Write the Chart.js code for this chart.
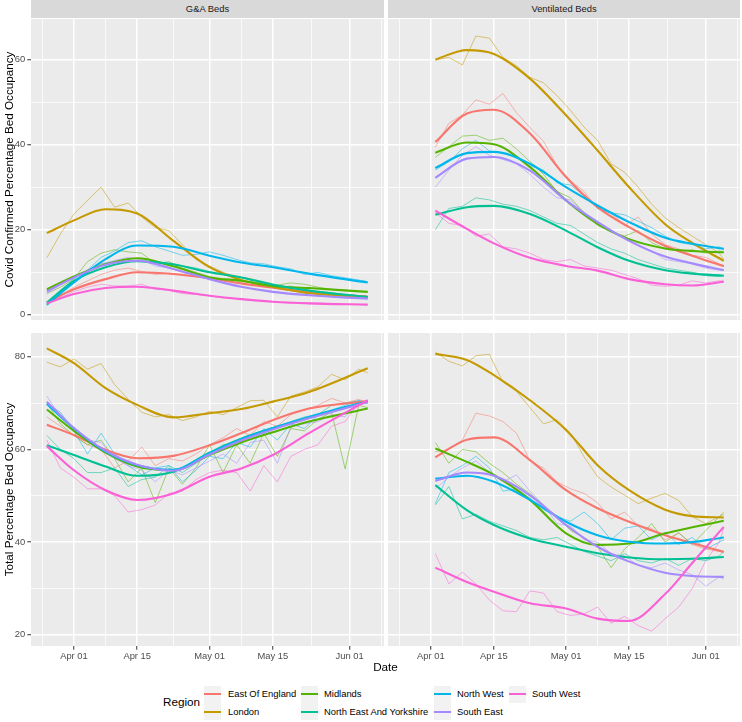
<!DOCTYPE html>
<html>
<head>
<meta charset="utf-8">
<script src="https://cdn.jsdelivr.net/npm/chart.js@4.4.0/dist/chart.umd.min.js"></script>
<style>
  body { margin: 0; background: #fff; font-family: "Liberation Sans", Arial, sans-serif; }
  #fig { position: relative; width: 742px; height: 722px; overflow: hidden; background: #fff; }
  canvas { position: absolute; }
  .strip { position: absolute; top: 0; height: 18px; background: #D9D9D9; color: #1A1A1A;
           font-size: 9.4px; font-weight: normal; line-height: 18px; text-align: center; }
  .txt { position: absolute; white-space: nowrap; color: #000; }
  .key { position: absolute; width: 17px; height: 17px; background: #F2F2F2; }
  .key div { position: absolute; left: 0; right: 0; top: 7.5px; height: 2px; }
</style>
</head>
<body>
<div id="fig">
  <div class="strip" style="left:31px;width:353px;">G&amp;A Beds</div>
  <div class="strip" style="left:388px;width:352px;">Ventilated Beds</div>
  <canvas id="tl" width="384" height="301" style="left:0;top:19px;"></canvas>
  <canvas id="tr" width="352" height="301" style="left:388px;top:19px;"></canvas>
  <canvas id="bl" width="384" height="335" style="left:0;top:333px;"></canvas>
  <canvas id="br" width="352" height="335" style="left:388px;top:333px;"></canvas>
  <div class="txt" style="left:0;width:771px;top:660px;text-align:center;font-size:11.7px;">Date</div>
  <div id="legend"></div>
</div>
<script>
// regions and ggplot hue colours
const regions = ['East Of England', 'London', 'Midlands', 'North East And Yorkshire', 'North West', 'South East', 'South West'];
const regionColours = ['#F8766D', '#C49A00', '#53B400', '#00C094', '#00B6EB', '#A58AFF', '#FB61D7'];

// x axis: days since Apr 01
const dateBreaks = [0, 14, 30, 44, 61];
const dateLabels = ['Apr 01', 'Apr 15', 'May 01', 'May 15', 'Jun 01'];
const dateMinor = [-7, 7, 22, 37, 52.5, 68];

const covidBreaks = [0, 20, 40, 60];
const covidMinor = [10, 30, 50];
const totalBreaks = [20, 40, 60, 80];
const totalMinor = [30, 50, 70];

// smoothed curves
const gaDays = [-6, 0, 7, 14, 22, 30, 37, 44, 52, 65];
const ventDays = [1, 8, 14, 22, 30, 37, 44, 52, 58, 65];

const gaCovidSmooth = [
  [2.9, 6.0, 8.4, 10.0, 9.6, 8.6, 7.4, 6.4, 5.3, 4.3],
  [19.2, 22.2, 24.8, 23.8, 17.4, 11.2, 8.2, 6.6, 5.1, 4.2],
  [6.0, 9.0, 11.9, 13.3, 11.4, 8.8, 8.0, 6.8, 6.3, 5.4],
  [2.9, 8.0, 11.2, 12.6, 11.9, 10.0, 8.8, 7.1, 5.7, 4.2],
  [2.4, 7.6, 13.1, 16.3, 16.0, 13.9, 12.3, 11.2, 9.7, 7.6],
  [5.5, 8.8, 11.8, 12.7, 10.8, 8.4, 6.6, 5.4, 4.6, 3.8],
  [2.7, 4.9, 6.3, 6.6, 5.7, 4.5, 3.7, 3.1, 2.7, 2.4]
];
const ventCovidSmooth = [
  [40.6, 47.3, 48.2, 42.6, 32.4, 25.3, 20.6, 16.2, 13.9, 11.4],
  [60.0, 62.2, 61.3, 55.5, 46.9, 38.6, 30.0, 21.3, 16.9, 12.7],
  [38.1, 40.5, 40.1, 34.7, 26.9, 21.4, 17.8, 15.6, 15.0, 14.7],
  [23.5, 25.3, 25.6, 23.7, 19.8, 15.9, 12.7, 10.5, 9.7, 9.2],
  [34.5, 38.0, 38.3, 35.5, 30.0, 25.7, 21.8, 18.1, 16.7, 15.5],
  [32.2, 36.7, 37.1, 33.9, 26.9, 21.8, 17.4, 13.7, 12.1, 10.5],
  [24.5, 20.2, 16.8, 13.4, 11.5, 10.4, 8.4, 7.2, 6.9, 7.8]
];
const gaTotalSmooth = [
  [65.3, 63.1, 59.9, 58.1, 58.6, 60.9, 63.5, 66.3, 68.8, 70.4],
  [81.8, 78.6, 73.2, 69.6, 66.9, 67.8, 68.7, 70.3, 72.4, 77.5],
  [68.6, 64.0, 59.3, 56.3, 55.5, 58.8, 61.5, 63.7, 66.0, 68.8],
  [60.9, 58.8, 56.3, 54.3, 55.2, 59.3, 62.3, 64.6, 66.9, 70.3],
  [69.8, 64.5, 59.5, 56.6, 55.6, 59.2, 62.2, 64.6, 67.0, 70.4],
  [70.3, 64.6, 59.7, 56.7, 55.4, 58.9, 61.9, 64.3, 66.7, 70.2],
  [60.7, 55.5, 51.2, 49.1, 50.5, 54.1, 55.9, 58.8, 63.5, 70.6]
];
const ventTotalSmooth = [
  [58.3, 62.1, 62.6, 57.7, 51.2, 47.3, 44.4, 41.5, 39.8, 37.9],
  [80.6, 79.3, 76.0, 70.6, 64.2, 56.6, 51.2, 47.0, 45.6, 45.3],
  [60.2, 57.3, 54.5, 49.1, 41.9, 39.4, 39.7, 41.9, 43.2, 44.6],
  [52.3, 46.9, 43.7, 40.8, 39.0, 37.6, 36.7, 36.3, 36.4, 36.8],
  [53.7, 54.3, 53.0, 49.1, 44.4, 41.5, 40.1, 39.7, 40.0, 41.0],
  [53.2, 55.0, 54.3, 50.1, 43.7, 39.0, 35.8, 33.4, 32.7, 32.5],
  [34.5, 31.4, 29.3, 26.8, 25.7, 23.5, 23.0, 28.8, 35.5, 43.3]
];

// daily figures (read every third day)
const gaRawDays = [-6, -3, 0, 3, 6, 9, 12, 15, 18, 21, 24, 27, 30, 33, 36, 39, 42, 45, 48, 51, 54, 57, 60, 63, 65];
const ventRawDays = [1, 4, 7, 10, 13, 16, 19, 22, 25, 28, 31, 34, 37, 40, 43, 46, 49, 52, 55, 58, 61, 64, 65];

const gaCovidRaw = [
  [2.5, 4.5, 6.5, 8.0, 9.5, 10.5, 11.0, 10.2, 9.5, 9.8, 9.5, 9.0, 8.5, 8.0, 7.5, 7.0, 6.8, 6.2, 6.0, 5.5, 5.2, 4.8, 4.6, 4.4, 4.3],
  [13.4, 19.0, 23.7, 26.9, 30.0, 25.3, 26.3, 23.0, 20.5, 19.8, 16.5, 13.0, 11.5, 10.0, 9.0, 8.5, 7.2, 6.5, 6.8, 5.5, 5.0, 4.8, 4.5, 4.4, 4.3],
  [5.0, 6.5, 8.5, 12.5, 14.5, 15.3, 14.8, 14.5, 12.0, 12.5, 11.0, 10.0, 9.0, 8.5, 8.2, 7.8, 7.5, 7.0, 7.5, 7.2, 6.5, 6.0, 5.8, 5.5, 5.5],
  [2.5, 5.5, 8.5, 10.5, 12.0, 12.5, 13.0, 12.5, 12.0, 12.0, 11.5, 11.0, 10.2, 9.5, 9.0, 8.5, 7.8, 7.0, 6.5, 6.0, 5.5, 5.2, 4.8, 4.5, 4.3],
  [2.2, 5.0, 7.8, 10.5, 13.5, 15.0, 17.0, 17.4, 16.0, 15.0, 14.0, 14.2, 14.8, 14.0, 13.0, 12.2, 12.0, 11.3, 10.8, 9.5, 10.0, 9.2, 8.7, 8.2, 7.8],
  [5.0, 7.0, 9.0, 10.5, 12.0, 12.8, 13.5, 13.0, 11.5, 11.0, 10.0, 9.2, 8.5, 7.5, 6.8, 6.2, 5.8, 5.3, 5.0, 4.8, 4.5, 4.2, 4.0, 3.9, 3.8],
  [2.5, 4.0, 5.5, 6.5, 7.2, 6.8, 6.8, 7.2, 6.0, 5.8, 5.0, 4.8, 4.5, 4.0, 3.8, 3.5, 3.3, 3.0, 3.0, 2.8, 2.8, 2.6, 2.5, 2.5, 2.4]
];
const ventCovidRaw = [
  [39.4, 45.0, 47.0, 50.5, 49.5, 52.0, 47.5, 44.0, 40.8, 35.0, 31.5, 29.0, 25.0, 24.0, 21.0, 23.0, 19.0, 16.5, 15.5, 14.0, 13.5, 12.0, 11.5],
  [59.8, 60.5, 58.7, 65.5, 65.0, 60.5, 58.5, 55.8, 54.5, 51.5, 48.0, 44.1, 41.0, 35.5, 33.5, 30.0, 26.0, 22.8, 20.5, 18.5, 16.5, 14.5, 13.0],
  [37.0, 39.5, 42.0, 42.2, 41.0, 41.5, 39.0, 36.0, 33.0, 29.0, 27.5, 24.0, 21.0, 19.5, 18.5, 19.8, 17.0, 15.5, 15.0, 15.3, 14.5, 15.0, 14.8],
  [20.0, 25.0, 25.5, 27.5, 27.0, 26.0, 25.5, 24.5, 23.0, 21.5, 21.0, 19.0, 17.0, 15.5, 14.5, 13.0, 12.0, 11.0, 10.5, 10.0, 9.2, 9.0, 9.3],
  [34.0, 36.0, 39.0, 41.0, 38.5, 38.0, 37.0, 35.0, 34.0, 31.0, 30.5, 28.0, 25.0, 24.0, 23.5, 22.0, 20.5, 18.5, 17.0, 16.5, 15.5, 16.0, 15.5],
  [30.0, 34.0, 37.5, 39.5, 37.5, 36.5, 35.5, 33.0, 30.0, 27.5, 27.0, 24.0, 22.0, 20.0, 18.0, 16.5, 15.0, 13.0, 12.5, 12.0, 11.0, 10.5, 10.5],
  [24.0, 21.5, 21.0, 18.5, 19.0, 16.0, 15.5, 14.5, 13.0, 12.5, 13.0, 11.5, 11.0, 10.5, 9.5, 8.5, 7.0, 6.7, 7.0, 8.0, 7.5, 8.0, 8.0]
];
const gaTotalRaw = [
  [67.0, 65.0, 63.0, 61.0, 60.0, 56.0, 57.5, 60.5, 56.5, 58.0, 57.5, 59.0, 61.0, 62.5, 64.5, 63.0, 66.0, 65.0, 67.5, 68.5, 69.5, 71.0, 70.0, 70.8, 70.0],
  [78.8, 77.8, 79.5, 77.3, 78.5, 74.0, 70.8, 68.0, 67.0, 67.5, 66.2, 67.0, 68.2, 67.5, 69.0, 70.5, 70.6, 67.0, 71.5, 72.4, 73.5, 76.2, 75.0, 77.3, 76.5],
  [70.0, 65.5, 63.0, 61.0, 62.0, 58.0, 53.0, 56.0, 48.5, 56.0, 52.5, 56.0, 61.0, 55.0, 61.0, 57.0, 63.5, 58.5, 64.5, 64.0, 66.5, 68.0, 55.8, 69.5, 69.0],
  [63.0, 60.0, 58.0, 55.0, 55.0, 56.0, 52.0, 53.5, 54.0, 56.5, 55.0, 57.0, 59.0, 61.0, 61.5, 63.0, 64.0, 64.5, 66.0, 67.0, 67.5, 69.5, 70.0, 70.5, 70.0],
  [70.0, 68.0, 64.0, 59.0, 63.5, 59.0, 56.5, 54.5, 56.0, 56.5, 53.0, 55.5, 58.5, 58.0, 61.5, 60.5, 64.5, 62.0, 65.5, 64.5, 67.5, 68.5, 69.5, 70.5, 70.0],
  [71.5, 67.0, 64.5, 62.0, 61.5, 58.0, 56.5, 55.5, 53.0, 55.5, 54.5, 56.0, 57.5, 59.0, 57.0, 61.5, 62.0, 57.0, 65.0, 65.5, 66.0, 67.5, 67.0, 70.5, 70.0],
  [62.0, 56.0, 54.0, 51.5, 51.5, 50.0, 46.5, 47.0, 48.0, 50.5, 51.0, 53.5, 55.0, 55.5, 55.0, 51.0, 56.5, 53.0, 58.5, 60.0, 61.0, 65.0, 66.0, 70.0, 70.5]
];
const ventTotalRaw = [
  [59.5, 60.0, 62.0, 67.8, 67.2, 66.0, 63.5, 57.5, 56.0, 53.0, 51.5, 50.5, 48.5, 45.0, 46.5, 43.5, 43.0, 40.5, 42.0, 39.5, 38.5, 38.0, 37.8],
  [81.0, 79.0, 78.0, 80.2, 80.5, 74.5, 72.5, 69.0, 65.5, 66.4, 63.5, 58.4, 54.1, 51.9, 50.1, 48.3, 49.5, 50.5, 49.0, 45.5, 44.0, 45.5, 46.5],
  [61.5, 57.0, 60.0, 59.5, 57.0, 55.0, 52.5, 50.5, 48.0, 45.5, 42.5, 41.0, 39.0, 34.5, 38.5, 41.0, 44.0, 40.0, 42.0, 39.5, 42.5, 45.5, 46.0],
  [48.0, 52.0, 45.0, 46.0, 44.5, 43.5, 42.5, 41.0, 40.5, 41.0, 39.5, 38.0, 37.0, 36.0, 37.5, 36.0, 35.5, 36.5, 35.0, 36.5, 36.0, 37.0, 38.0],
  [48.3, 55.0, 56.5, 58.5, 56.0, 51.0, 51.5, 49.5, 47.0, 45.5, 44.5, 46.5, 44.0, 40.5, 43.0, 43.5, 40.5, 42.0, 39.5, 41.0, 38.5, 40.0, 40.5],
  [51.5, 54.0, 56.0, 57.5, 55.0, 53.0, 54.5, 51.0, 48.0, 44.0, 43.5, 40.5, 40.0, 37.5, 37.0, 35.0, 34.5, 35.5, 34.0, 33.0, 30.5, 32.5, 32.0],
  [37.5, 31.0, 33.5, 31.0, 27.5, 25.2, 25.0, 29.5, 29.0, 25.0, 24.2, 24.5, 26.0, 22.5, 24.0, 22.0, 20.8, 23.5, 26.0, 30.0, 36.0, 40.0, 43.0]
];

const FONT = '"Liberation Sans", Arial, sans-serif';

function withAlpha(hex, a) {
  const n = parseInt(hex.slice(1), 16);
  return `rgba(${n >> 16}, ${(n >> 8) & 255}, ${n & 255}, ${a})`;
}

function toPoints(days, vals) {
  return days.map((d, i) => ({ x: d, y: vals[i] }));
}

// scales must not reserve room for half-labels: the panels sit at fixed pixels
function fixSize(s, w, h) {
  if (w !== null) s.width = w;
  if (h !== null) s.height = h;
  s.paddingTop = 0;
  s.paddingBottom = 0;
  s.paddingLeft = 0;
  s.paddingRight = 0;
}

const panelBackground = {
  id: 'panelBackground',
  beforeDraw(chart) {
    const { ctx, chartArea: a } = chart;
    ctx.save();
    ctx.fillStyle = '#EBEBEB';
    ctx.fillRect(a.left, a.top, a.right - a.left, a.bottom - a.top);
    ctx.restore();
  }
};

function makePanel(id, smoothDays, smooth, rawDays, raw, yRange, yBreaks, yMinor, p) {
  const datasets = [];
  smooth.forEach((vals, i) => {
    datasets.push({
      data: toPoints(smoothDays, vals),
      borderColor: regionColours[i],
      borderWidth: 2.1,
      cubicInterpolationMode: 'monotone',
      pointRadius: 0,
      order: 10 - i
    });
  });
  raw.forEach((vals, i) => {
    datasets.push({
      data: toPoints(rawDays, vals),
      borderColor: withAlpha(regionColours[i], 0.52),
      borderWidth: 1,
      tension: 0,
      pointRadius: 0,
      order: 30 - i
    });
  });

  const isMajorX = v => dateBreaks.includes(v);
  const isMajorY = v => yBreaks.includes(v);

  return new Chart(document.getElementById(id), {
    type: 'line',
    data: { datasets },
    plugins: [panelBackground],
    options: {
      responsive: false,
      animation: false,
      events: [],
      layout: { padding: 0, autoPadding: false },
      plugins: { legend: { display: false }, tooltip: { enabled: false } },
      scales: {
        x: {
          type: 'linear',
          bounds: 'data',
          min: -9.5,
          max: 68.6,
          afterFit: s => fixSize(s, null, p.xHeight),
          afterBuildTicks: s => { s.ticks = dateMinor.concat(dateBreaks).map(v => ({ value: v })); },
          border: { display: false },
          grid: {
            color: '#FFFFFF',
            lineWidth: c => (c.tick && isMajorX(c.tick.value)) ? 1.5 : 0.75,
            drawTicks: p.showX,
            tickLength: 3.7,
            tickWidth: 1,
            tickColor: c => (c.tick && isMajorX(c.tick.value)) ? '#333333' : 'rgba(0,0,0,0)'
          },
          ticks: {
            display: p.showX,
            autoSkip: false,
            maxRotation: 0,
            padding: 1,
            color: '#4D4D4D',
            font: { family: FONT, size: 9.4 },
            callback: v => { const k = dateBreaks.indexOf(v); return k >= 0 ? dateLabels[k] : ''; }
          }
        },
        y: {
          type: 'linear',
          bounds: 'data',
          min: yRange[0],
          max: yRange[1],
          afterFit: s => fixSize(s, p.yWidth, null),
          afterBuildTicks: s => { s.ticks = yMinor.concat(yBreaks).map(v => ({ value: v })); },
          border: { display: false },
          grid: {
            color: '#FFFFFF',
            lineWidth: c => (c.tick && isMajorY(c.tick.value)) ? 1.5 : 0.75,
            drawTicks: p.showY,
            tickLength: 3.7,
            tickWidth: 1,
            tickColor: c => (c.tick && isMajorY(c.tick.value)) ? '#333333' : 'rgba(0,0,0,0)'
          },
          ticks: {
            display: p.showY,
            autoSkip: false,
            padding: 2,
            color: '#4D4D4D',
            font: { family: FONT, size: 9.4 },
            callback: v => isMajorY(v) ? String(v) : ''
          },
          title: {
            display: !!p.yTitle,
            text: p.yTitle || '',
            color: '#000000',
            padding: { top: 3, bottom: 0 },
            font: { family: FONT, size: 11.7 }
          }
        }
      }
    }
  });
}

makePanel('tl', gaDays, gaCovidSmooth, gaRawDays, gaCovidRaw, [-1.2, 69.5], covidBreaks, covidMinor,
  { showX: false, showY: true, xHeight: 0, yWidth: 31, yTitle: 'Covid Confirmed Percentage Bed Occupancy' });
makePanel('tr', ventDays, ventCovidSmooth, ventRawDays, ventCovidRaw, [-1.2, 69.5], covidBreaks, covidMinor,
  { showX: false, showY: false, xHeight: 0, yWidth: 0 });
makePanel('bl', gaDays, gaTotalSmooth, gaRawDays, gaTotalRaw, [17.6, 85.1], totalBreaks, totalMinor,
  { showX: true, showY: true, xHeight: 22, yWidth: 31, yTitle: 'Total Percentage Bed Occupancy' });
makePanel('br', ventDays, ventTotalSmooth, ventRawDays, ventTotalRaw, [17.6, 85.1], totalBreaks, totalMinor,
  { showX: true, showY: false, xHeight: 22, yWidth: 0 });

// legend: two rows, filled by column
const legendCols = [204, 301, 434, 509];
const legendLabelX = [228, 324, 457, 532];
const legendRowTop = [685.5, 703];
const legend = document.getElementById('legend');
let html = '<div class="txt" style="left:163px;top:695px;font-size:11.7px;">Region</div>';
regions.forEach((name, i) => {
  const col = Math.floor(i / 2), row = i % 2;
  const top = legendRowTop[row];
  html += `<div class="key" style="left:${legendCols[col]}px;top:${top}px;"><div style="background:${regionColours[i]}"></div></div>`;
  html += `<div class="txt" style="left:${legendLabelX[col]}px;top:${top + 2.5}px;font-size:9.4px;line-height:12px;">${name}</div>`;
});
legend.innerHTML = html;
</script>
</body>
</html>
